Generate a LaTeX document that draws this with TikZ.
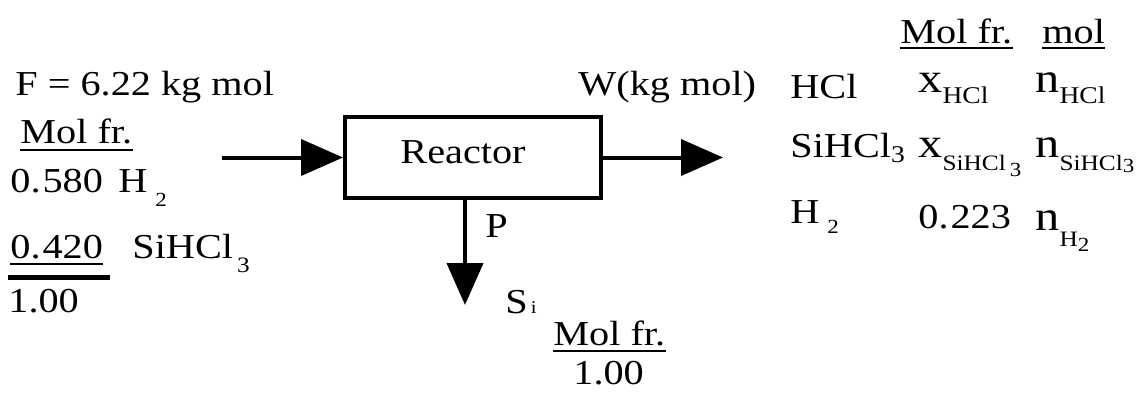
\documentclass[tikz,border=0pt]{standalone}
\usepackage{fontspec}
\setmainfont{Liberation Serif}[FakeStretch=1.15]
\usetikzlibrary{arrows.meta}
\newcommand{\lowsub}[3]{\raisebox{#1}{\fontsize{#2}{#2}\selectfont #3}}
\begin{document}
\begin{tikzpicture}[x=0.5pt,y=-0.5pt,
  txt/.style={inner sep=0pt, anchor=base west, font=\fontsize{17.5}{19}\selectfont},
  big/.style={inner sep=0pt, anchor=base west, font=\fontsize{21}{23}\selectfont},
  flow/.style={line width=2pt, -{Triangle[length=21pt,width=18pt]}},
  uline/.style={line width=0.8pt},
  sumline/.style={line width=2.5pt},
  box/.style={draw, line width=2pt, minimum width=128pt, minimum height=40.5pt, inner sep=0pt}]
\useasboundingbox (0,0) rectangle (1137,392);

% reactor and streams
\node[box] (reactor) at (473,157.5) {};
\node[txt, anchor=base] (rlab) at (463,163) {Reactor};
\coordinate (fin) at (222,157.5);
\coordinate (wout) at (723,157.5);
\coordinate (pout) at (465,305);
\draw[flow] (fin) -- (reactor.west);
\draw[flow] (reactor.east) -- (wout);
\draw[flow] (pout |- reactor.south) -- (pout);

% product labels
\node[txt] (P) at (485,237) {P};
\node[txt] (Si) at (505,313) {S\kern1.5pt{\fontsize{9}{9}\selectfont i}};
\node[txt] (mfB) at (553,345) {Mol fr.};
\draw[uline] ([yshift=-3pt]mfB.base west) -- ([yshift=-3pt]mfB.base east);
\node[txt] (oneB) at (573,384) {1.00};

% feed
\node[txt] (F) at (15,95) {F = 6.22 kg mol};
\node[txt] (mfL) at (20,143) {Mol fr.};
\draw[uline] ([yshift=-3.5pt]mfL.base west) -- ([yshift=-3.5pt]mfL.base east);
\node[txt] (v580) at (10,192) {0.\kern1pt580};
\node[txt] (h2L) at (118,192) {H\kern4pt\lowsub{-7pt}{10}{2}};
\node[txt] (v420) at (10,258) {0.\kern1pt420};
\draw[uline] ([yshift=-3pt]v420.base west) -- ([yshift=-3pt]v420.base east);
\node[txt] (shL) at (132,258) {SiHCl\kern2pt\lowsub{-7pt}{11}{3}};
\coordinate (sumA) at (8,277);
\coordinate (sumB) at (110,277);
\draw[sumline] (sumA) -- (sumB);
\node[txt] (sum) at (8,312) {1.00};

% outlet
\node[txt] (W) at (578,95) {W(kg mol)};
\node[txt] (hcl) at (790,98) {HCl};
\node[txt] (shR) at (790,157) {SiHCl\lowsub{-2.5pt}{12}{3}};
\node[txt] (h2R) at (790,223) {H\kern4pt\lowsub{-5pt}{10}{2}};
\node[txt] (mfR) at (900,43) {Mol fr.};
\draw[uline] ([yshift=-2.5pt]mfR.base west) -- ([yshift=-2.5pt]mfR.base east);
\node[txt] (molR) at (1042,43) {mol};
\draw[uline] ([yshift=-2.5pt]molR.base west) -- ([yshift=-2.5pt]molR.base east);
\node[big] (xhcl) at (918,92) {x\lowsub{-5.5pt}{12}{HCl}};
\node[big] (nhcl) at (1035,92) {n\lowsub{-5.5pt}{12}{HCl}};
\node[big] (xsh) at (918,157) {x\lowsub{-6.5pt}{11}{SiHCl\kern2pt\lowsub{-3pt}{10}{3}}};
\node[big] (nsh) at (1035,157) {n\lowsub{-6.5pt}{11}{SiHCl\lowsub{-1pt}{10}{3}}};
\node[txt] (v223) at (918,228) {0.\kern1pt223};
\node[big] (nh2) at (1035,230) {n\lowsub{-8pt}{11}{H\lowsub{-2.5pt}{10}{2}}};
\end{tikzpicture}
\end{document}
